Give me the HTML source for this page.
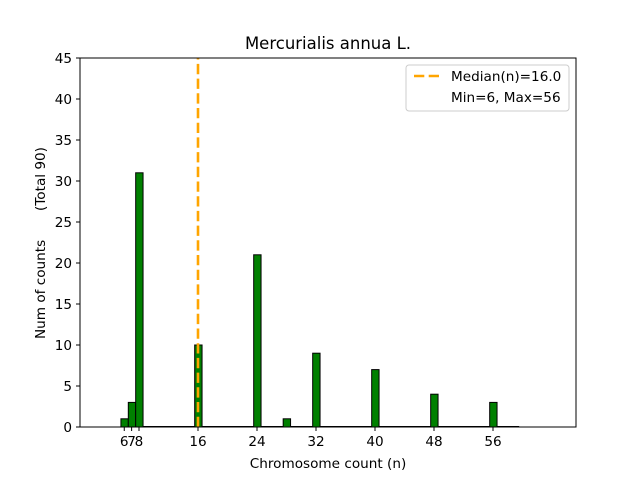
<!DOCTYPE html>
<html><head><meta charset="utf-8"><style>
body{margin:0;background:#fff}
svg{display:block;font-family:"DejaVu Sans","Liberation Sans",sans-serif}
</style></head><body>
<svg id="chart" width="640" height="480">
<rect width="640" height="480" fill="#fff"/>
<g id="bars"></g>
<g id="ticks"></g>
<line id="median" stroke="orange" stroke-width="2.6" stroke-dasharray="10.3,4.4"/>
<rect x="80" y="58" width="496" height="369" fill="none" stroke="#000" stroke-width="1"/>
<text x="328" y="49" text-anchor="middle" font-size="16.5">Mercurialis annua L.</text>
<text x="328" y="468" text-anchor="middle" font-size="13.6">Chromosome count (n)</text>
<text transform="translate(45,339) rotate(-90)" text-anchor="start" font-size="13.6">Num of counts</text>
<text transform="translate(45,211) rotate(-90)" text-anchor="start" font-size="13.6">(Total 90)</text>
<g>
<rect x="406" y="65" width="163" height="46" rx="3" fill="#fff" stroke="#ccc"/>
<line x1="414" y1="76" x2="441" y2="76" stroke="orange" stroke-width="2.6" stroke-dasharray="10.3,4.4"/>
<text x="451" y="81" font-size="13.6">Median(n)=16.0</text>
<text x="451" y="102" font-size="13.6">Min=6, Max=56</text>
</g>
</svg>
<script>
const categories=[6,7,8,16,24,28,32,40,48,56];
const counts=[1,3,31,10,21,1,9,7,4,3];
const xTicks=[6,7,8,16,24,32,40,48,56];
const xTickLabels=["6","7","8","16","24","32","40","48","56"];
const yTicks=[0,5,10,15,20,25,30,35,40,45];
const medianValue=16;
const binStart=5.55, binEnd=59.55;
const NS="http://www.w3.org/2000/svg";
const X=v=>80+v*7.375;
const Y=v=>427-v*8.2;
const bars=document.getElementById('bars');
const base=document.createElementNS(NS,'line');
base.setAttribute('x1',X(binStart));base.setAttribute('x2',X(binEnd));
base.setAttribute('y1',426.5);base.setAttribute('y2',426.5);
base.setAttribute('stroke','#000');


bars.appendChild(base);
categories.forEach((c,i)=>{
  const r=document.createElementNS(NS,'rect');
  const x0=X(c-0.45),x1=X(c+0.55);
  r.setAttribute('x',x0);r.setAttribute('width',x1-x0);
  r.setAttribute('y',Y(counts[i]));r.setAttribute('height',Y(0)-Y(counts[i]));
  r.setAttribute('fill','green');r.setAttribute('stroke','#000');r.setAttribute('stroke-width','1');
  
  
  bars.appendChild(r);
});
const tg=document.getElementById('ticks');
xTicks.forEach((t,i)=>{
  const l=document.createElementNS(NS,'line');
  l.setAttribute('x1',X(t));l.setAttribute('x2',X(t));l.setAttribute('y1',427);l.setAttribute('y2',431);l.setAttribute('stroke','#000');
  
  
  tg.appendChild(l);
  const tx=document.createElementNS(NS,'text');
  tx.setAttribute('x',X(t));tx.setAttribute('y',446);tx.setAttribute('text-anchor','middle');tx.setAttribute('font-size','13.6');
  tx.textContent=xTickLabels[i];
  
  
  tg.appendChild(tx);
});
yTicks.forEach(t=>{
  const l=document.createElementNS(NS,'line');
  l.setAttribute('x1',76);l.setAttribute('x2',80);l.setAttribute('y1',Y(t));l.setAttribute('y2',Y(t));l.setAttribute('stroke','#000');
  
  
  tg.appendChild(l);
  const tx=document.createElementNS(NS,'text');
  tx.setAttribute('x',72);tx.setAttribute('y',Y(t)+5);tx.setAttribute('text-anchor','end');tx.setAttribute('font-size','13.6');
  tx.textContent=t;
  
  
  tg.appendChild(tx);
});
const m=document.getElementById('median');
m.setAttribute('x1',X(medianValue));m.setAttribute('x2',X(medianValue));
m.setAttribute('y1',Y(0));m.setAttribute('y2',Y(45));
</script>
</body></html>
